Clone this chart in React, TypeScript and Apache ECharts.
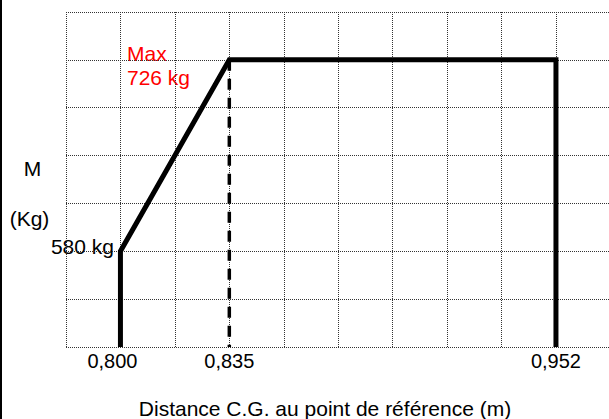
import React, { useEffect, useRef } from "react";
import * as echarts from "echarts";

// Tick labels of the distance axis (one slot per vertical grid line)
const xCategories = ["", "0,800", "", "0,835", "", "", "", "", "", "0,952", ""];
// Mass levels (one slot per horizontal grid line, bottom first)
const yCategories = ["", "", "580", "", "", "", "726", ""];

// Envelope profile: distance label / mass level
const profileDistance = ["0,800", "0,800", "0,835", "0,952", "0,952"];
const profileMass = ["", "580", "726", "726", ""];

// Dashed reference at the max-mass forward limit
const refDistance = ["0,835", "0,835"];
const refMass = ["726", ""];

const xTitle = "Distance C.G. au point de référence (m)";
const yTitle = ["M", "(Kg)"];
const minLabel = "580 kg";
const maxLabel = ["Max", "726 kg"];

const FONT = "'Liberation Sans', Arial, Helvetica, sans-serif";

const toPoints = (xs: string[], ys: string[]) =>
  xs.map((x, i) => [xCategories.indexOf(x), yCategories.indexOf(ys[i])]);

export default function App() {
  const ref = useRef<HTMLDivElement>(null);
  useEffect(() => {
    if (!ref.current) return;
    const chart = echarts.init(ref.current, null, { renderer: "svg" });
    const lineStyle = { color: "#333", width: 1, type: "dotted" as const };
    chart.setOption({
      animation: false,
      backgroundColor: "#fff",
      grid: {
        left: 66,
        top: 12,
        width: 544.4,
        height: 335,
        containLabel: false,
        outerBoundsMode: "none",
      },
      xAxis: {
        type: "category",
        data: xCategories,
        boundaryGap: false,
        axisLine: { show: false },
        axisTick: { show: false },
        splitLine: { show: true, showMaxLine: false, lineStyle },
        axisLabel: {
          interval: 0,
          margin: 4,
          color: "#000",
          fontFamily: FONT,
          fontSize: 20,
          formatter: (v: string) => (v === "0,800" ? "{s|" + v + "}" : v),
          rich: { s: { fontFamily: FONT, fontSize: 20, color: "#000", padding: [0, 16, 0, 0] } },
        },
      },
      yAxis: {
        type: "category",
        data: yCategories,
        boundaryGap: false,
        axisLine: { show: false },
        axisTick: { show: false },
        axisLabel: { show: false },
        splitLine: { show: true, interval: 0, lineStyle },
      },
      series: [
        {
          type: "line",
          data: toPoints(refDistance, refMass),
          symbol: "none",
          z: 2,
          lineStyle: { color: "#000", width: 3.5, type: [11, 8], cap: "butt" },
        },
        {
          type: "line",
          data: toPoints(profileDistance, profileMass),
          symbol: "none",
          z: 3,
          lineStyle: { color: "#000", width: 5, join: "miter", cap: "butt" },
        },
      ],
      graphic: [
        { type: "line", shape: { x1: 1, y1: 0, x2: 1, y2: 419 }, style: { stroke: "#000", lineWidth: 2 } },
        {
          type: "text", x: 32.5, y: 168.5,
          style: { text: yTitle[0], font: `21px ${FONT}`, fill: "#000", align: "center", verticalAlign: "middle" },
        },
        {
          type: "text", x: 29.5, y: 218,
          style: { text: yTitle[1], font: `21px ${FONT}`, fill: "#000", align: "center", verticalAlign: "middle" },
        },
        {
          type: "text", x: 114, y: 246,
          style: { text: minLabel, font: `21px ${FONT}`, fill: "#000", align: "right", verticalAlign: "middle" },
        },
        {
          type: "text", x: 127, y: 53.5,
          style: { text: maxLabel[0], font: `21px ${FONT}`, fill: "#ff0000", align: "left", verticalAlign: "middle" },
        },
        {
          type: "text", x: 127, y: 77.5,
          style: { text: maxLabel[1], font: `21px ${FONT}`, fill: "#ff0000", align: "left", verticalAlign: "middle" },
        },
        {
          type: "text", x: 325, y: 408.5,
          style: { text: xTitle, font: `21px ${FONT}`, fill: "#000", align: "center", verticalAlign: "middle" },
        },
      ],
    });
    return () => chart.dispose();
  }, []);
  return <div ref={ref} style={{ position: "fixed", left: 0, top: 0, width: 609, height: 419 }} />;
}
